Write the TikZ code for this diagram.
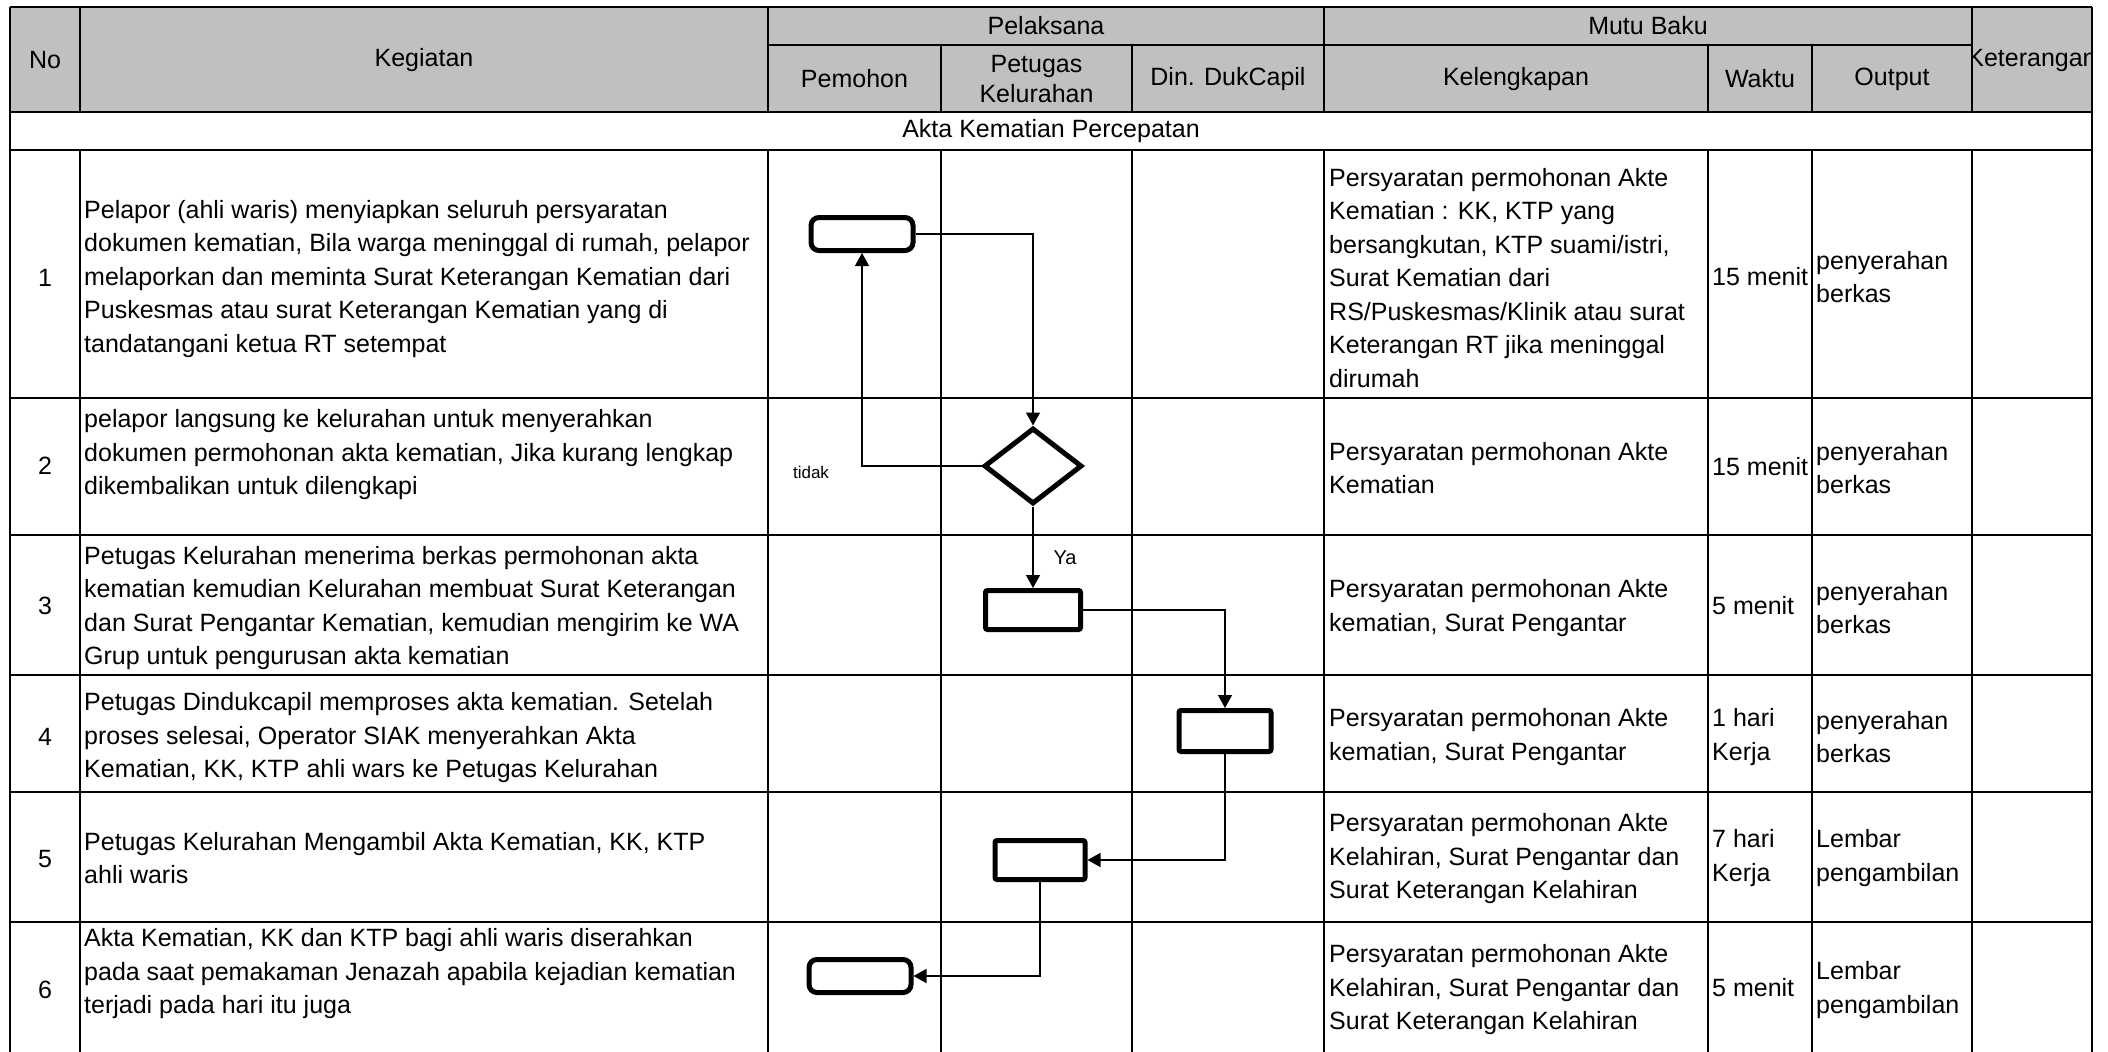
\documentclass[tikz,border=0pt]{standalone}
\usepackage{fontspec}
\setmainfont{Liberation Sans}
\usetikzlibrary{arrows.meta,shapes.geometric}
\definecolor{abu}{HTML}{C0C0C0}
\tikzset{
  teks/.style={font=\fontsize{25bp}{33.5bp}\selectfont, inner sep=0pt, align=left, anchor=west},
  judul/.style={font=\fontsize{25bp}{30bp}\selectfont, inner sep=0pt, align=center},
  garish/.style={line width=2.6bp},
  garisv/.style={line width=1.8bp},
  proses/.style={draw, line width=5bp, inner sep=0pt, rounded corners=2bp},
  awal/.style={proses, rounded corners=8bp, minimum width=102bp, minimum height=33bp},
  keputusan/.style={draw, diamond, line width=5bp, inner sep=0pt, minimum width=98bp, minimum height=76bp},
  alur/.style={line width=1.4bp, -{Triangle[length=13bp,width=14bp]}}
}

\begin{document}
\begin{tikzpicture}[x=1bp,y=-1bp]
\useasboundingbox (0,0) rectangle (2108,1052);
\fill[white] (0,0) rectangle (2108,1052);
\fill[abu] (10,7) rectangle (2092,112);

\foreach \y in {7,112,150,398,535,675,792,922}
  \draw[garish] (10,\y) -- (2092,\y);
\draw[garish] (768,45) -- (1972,45);
\foreach \x in {10,2092}
  \draw[garisv] (\x,7) -- (\x,1052);
\foreach \x in {80,768,1324,1972}
  \draw[garisv] (\x,7) -- (\x,112) (\x,150) -- (\x,1052);
\foreach \x in {941,1132,1708,1812}
  \draw[garisv] (\x,45) -- (\x,112) (\x,150) -- (\x,1052);

\node[judul] (hno) at (45,60) {No};
\node[judul] (hkeg) at (424,60) {Kegiatan};
\node[judul] (hpel) at (1046,26) {Pelaksana};
\node[judul] (hmutu) at (1648,26) {Mutu Baku};
\node[judul] (hpem) at (854.5,79) {Pemohon};
\node[judul] (hkel) at (1036.5,79) {Petugas\\Kelurahan};
\node[judul] (hdin) at (1228,79) {Din. DukCapil};
\node[judul] (hlengkap) at (1516,79) {Kelengkapan};
\node[judul] (hwaktu) at (1760,79) {Waktu};
\node[judul] (hout) at (1892,79) {Output};
\begin{scope}
  \clip (1972,7) rectangle (2092,112);
  \node[judul] (hket) at (2032,60) {Keterangan};
\end{scope}
\node[judul] (akta) at (1051,131) {Akta Kematian Percepatan};

\foreach \n/\y in {1/278,2/466,3/606,4/737,5/859,6/990}
  \node[judul] (no\n) at (45,\y) {\n};

\node[teks] (keg1) at (84,279) {Pelapor (ahli waris) menyiapkan seluruh persyaratan\\dokumen kematian, Bila warga meninggal di rumah, pelapor\\melaporkan dan meminta Surat Keterangan Kematian dari\\Puskesmas atau surat Keterangan Kematian yang di\\tandatangani ketua RT setempat};
\node[teks] (keg2) at (84,455) {pelapor langsung ke kelurahan untuk menyerahkan\\dokumen permohonan akta kematian, Jika kurang lengkap\\dikembalikan untuk dilengkapi};
\node[teks] (keg3) at (84,608) {Petugas Kelurahan menerima berkas permohonan akta\\kematian kemudian Kelurahan membuat Surat Keterangan\\dan Surat Pengantar Kematian, kemudian mengirim ke WA\\Grup untuk pengurusan akta kematian};
\node[teks] (keg4) at (84,738) {Petugas Dindukcapil memproses akta kematian. Setelah\\proses selesai, Operator SIAK menyerahkan Akta\\Kematian, KK, KTP ahli wars ke Petugas Kelurahan};
\node[teks] (keg5) at (84,858) {Petugas Kelurahan Mengambil Akta Kematian, KK, KTP\\ahli waris};
\node[teks] (keg6) at (84,974) {Akta Kematian, KK dan KTP bagi ahli waris diserahkan\\pada saat pemakaman Jenazah apabila kejadian kematian\\terjadi pada hari itu juga};

\node[teks] (lk1) at (1329,278) {Persyaratan permohonan Akte\\Kematian : KK, KTP yang\\bersangkutan, KTP suami/istri,\\Surat Kematian dari\\RS/Puskesmas/Klinik atau surat\\Keterangan RT jika meninggal\\dirumah};
\node[teks] (lk2) at (1329,468) {Persyaratan permohonan Akte\\Kematian};
\node[teks] (lk3) at (1329,608) {Persyaratan permohonan Akte\\kematian, Surat Pengantar};
\node[teks] (lk4) at (1329,737) {Persyaratan permohonan Akte\\kematian, Surat Pengantar};
\node[teks] (lk5) at (1329,859) {Persyaratan permohonan Akte\\Kelahiran, Surat Pengantar dan\\Surat Keterangan Kelahiran};
\node[teks] (lk6) at (1329,990) {Persyaratan permohonan Akte\\Kelahiran, Surat Pengantar dan\\Surat Keterangan Kelahiran};

\node[teks] (wk1) at (1712,277) {15 menit};
\node[teks] (wk2) at (1712,467) {15 menit};
\node[teks] (wk3) at (1712,606) {5 menit};
\node[teks] (wk4) at (1712,737) {1 hari\\Kerja};
\node[teks] (wk5) at (1712,858) {7 hari\\Kerja};
\node[teks] (wk6) at (1712,988) {5 menit};

\node[teks] (out1) at (1816,277) {penyerahan\\berkas};
\node[teks] (out2) at (1816,468) {penyerahan\\berkas};
\node[teks] (out3) at (1816,608) {penyerahan\\berkas};
\node[teks] (out4) at (1816,737) {penyerahan\\berkas};
\node[teks] (out5) at (1816,858) {Lembar\\pengambilan};
\node[teks] (out6) at (1816,990) {Lembar\\pengambilan};

\node[awal] (b1) at (862,234) {};
\node[keputusan] (d2) at (1033,466) {};
\node[proses, minimum width=95bp, minimum height=39bp] (b3) at (1033,610) {};
\node[proses, minimum width=92bp, minimum height=41bp] (b4) at (1225,731) {};
\node[proses, minimum width=90bp, minimum height=39bp] (b5) at (1040,860) {};
\node[awal] (b6) at (860,976) {};

\draw[alur] (b1.east) -| (d2.north);
\draw[alur] (d2.west) -| (b1.south);
\draw[alur] (d2.south) -- (b3.north);
\draw[alur] (b3.east) -| (b4.north);
\draw[alur] (b4.south) |- (b5.east);
\draw[alur] (b5.south) |- (b6.east);

\node[font=\fontsize{17bp}{20bp}\selectfont, inner sep=0pt] (tidak) at (811,472) {tidak};
\node[font=\fontsize{20bp}{24bp}\selectfont, inner sep=0pt] (ya) at (1065,558) {Ya};
\end{tikzpicture}
\end{document}
